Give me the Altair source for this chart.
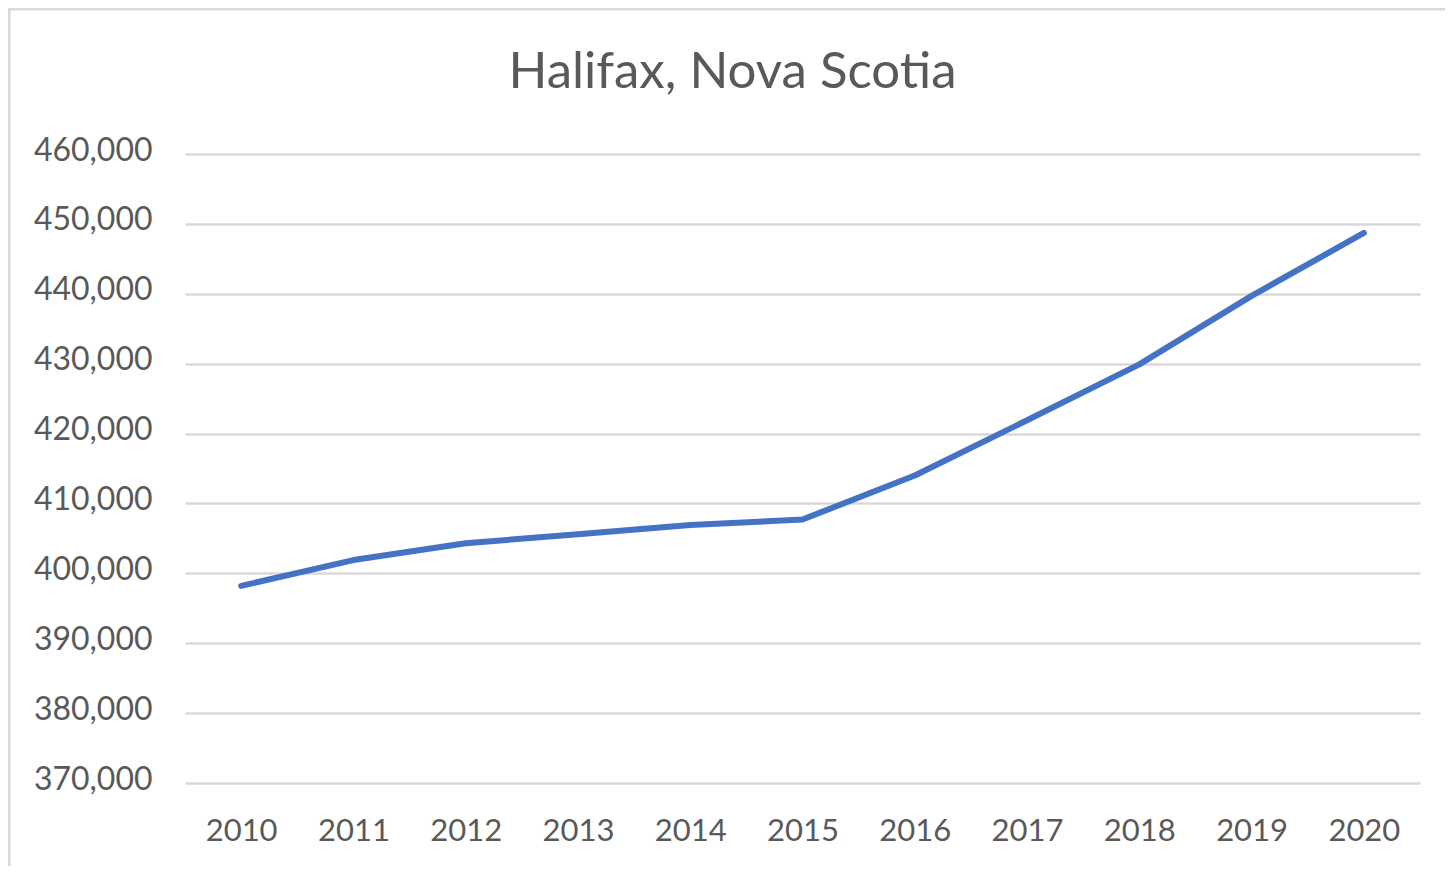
import altair as alt
import pandas as pd

years = ["2010", "2011", "2012", "2013", "2014", "2015", "2016", "2017", "2018", "2019", "2020"]
population = [398200, 401900, 404300, 405600, 406900, 407700, 414000, 421900, 429900, 439700, 448700]
y_ticks = [370000, 380000, 390000, 400000, 410000, 420000, 430000, 440000, 450000, 460000]
title_text = "Halifax, Nova Scotia"

df = pd.DataFrame({"Year": years, "Population": population})

FONT = "Lato"
TEXT = "#595959"
GRID = "#d9d9d9"

line = alt.Chart(df).mark_line(
    color="#4472C4", strokeWidth=6, strokeCap="round", strokeJoin="round"
).encode(
    x=alt.X("Year:O", sort=years, title=None,
            scale=alt.Scale(type="point", padding=0.5),
            axis=alt.Axis(labelAngle=0, domain=False, ticks=False, grid=False,
                          labelPadding=33, labelFont=FONT, labelFontSize=31,
                          labelColor=TEXT)),
    y=alt.Y("Population:Q", title=None,
            scale=alt.Scale(domain=[370000, 460000], nice=False, zero=False),
            axis=alt.Axis(values=y_ticks, format=",.0f", domain=False, ticks=False,
                          grid=True, gridColor=GRID, gridWidth=2.5,
                          labelPadding=33, labelOffset=-4, labelFont=FONT,
                          labelFontSize=32, labelColor=TEXT)),
)

one = alt.Data(values=[{"a": 1}])
top_border = alt.Chart(one).mark_rule(color=GRID, strokeWidth=3).encode(
    x=alt.value(-177), x2=alt.value(1262), y=alt.value(-145))
left_border = alt.Chart(one).mark_rule(color=GRID, strokeWidth=3).encode(
    x=alt.value(-176), y=alt.value(-146), y2=alt.value(715))

chart = alt.layer(line, top_border, left_border).properties(
    width=1235, height=629,
    title=alt.TitleParams(title_text, font=FONT, fontSize=51, fontWeight="normal",
                          color=TEXT, anchor="middle", frame="group",
                          offset=-132, baseline="alphabetic", dx=-70),
    autosize=alt.AutoSizeParams(type="none"),
    padding={"left": 177, "top": 146, "right": 25, "bottom": 83},
).configure_view(stroke=None)

chart.save("out.html", embed_options={"renderer": "svg", "actions": False})
